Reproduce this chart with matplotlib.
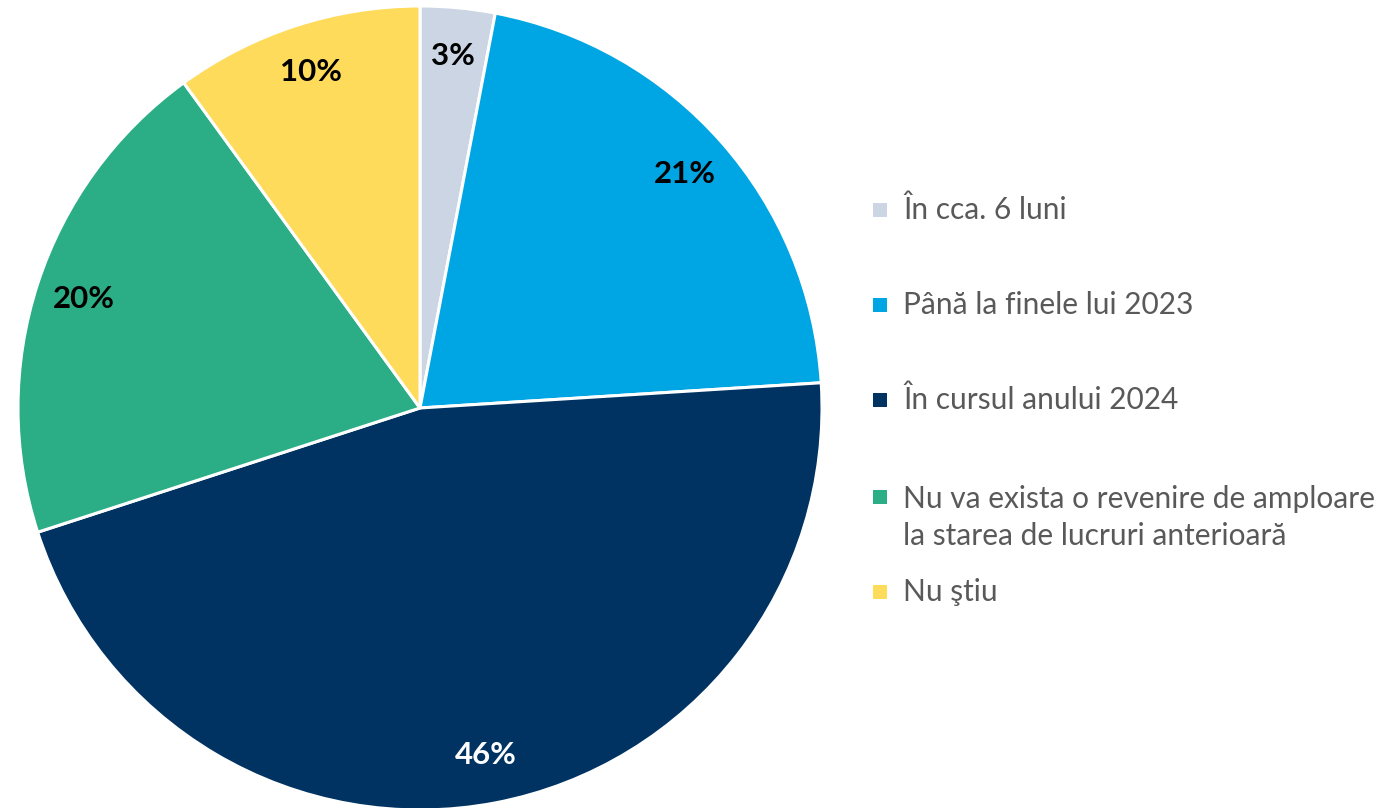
import matplotlib
matplotlib.use("Agg")
import matplotlib.pyplot as plt
from matplotlib.patches import Rectangle

plt.rcParams['font.family'] = ['Lato', 'DejaVu Sans']

labels = ['În cca. 6 luni', 'Până la finele lui 2023', 'În cursul anului 2024',
          'Nu va exista o revenire de amploare\nla starea de lucruri anterioară', 'Nu ştiu']
values = [3, 21, 46, 20, 10]
colors = ['#CBD5E3', '#00A5E3', '#003362', '#2BAE85', '#FFDB5C']
label_colors = ['black', 'black', 'white', 'black', 'black']

W, H = 1385, 808
fig = plt.figure(figsize=(W / 100, H / 100), dpi=100)
cx, cy, r = 420, 408, 402
ax = fig.add_axes([(cx - r) / W, (H - cy - r) / H, 2 * r / W, 2 * r / H])

wedges, texts, autotexts = ax.pie(
    values, colors=colors, startangle=90, counterclock=False,
    autopct='%d%%', pctdistance=0.88,
    wedgeprops=dict(edgecolor='white', linewidth=2.2),
    textprops=dict(fontsize=22.5, fontweight='bold'))
for t, c in zip(autotexts, label_colors):
    t.set_color(c)
ax.set_xlim(-1, 1)
ax.set_ylim(-1, 1)

# legend on the right
rows_y = [210, 305, 400, 497, 592]
for lab, col, y in zip(labels, colors, rows_y):
    fig.patches.append(Rectangle(((880 - 7) / W, (H - y - 7) / H), 14 / W, 14 / H,
                                 transform=fig.transFigure, facecolor=col,
                                 edgecolor='none'))
    multi = '\n' in lab
    fig.text(903 / W, (H - (y - 12 if multi else y)) / H, lab, fontsize=21.5,
             color='#595959', va='top' if multi else 'center', ha='left',
             linespacing=1.4)

fig.savefig('out.png', dpi=100)
